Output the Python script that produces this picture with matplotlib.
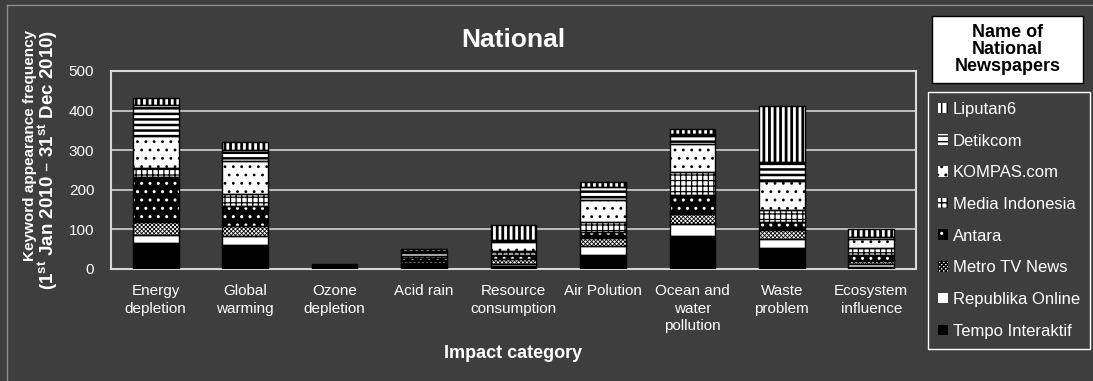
import matplotlib
matplotlib.use("Agg")
import matplotlib.pyplot as plt
from matplotlib.patches import Rectangle
from matplotlib.lines import Line2D

plt.rcParams['font.family'] = ['Liberation Sans', 'DejaVu Sans']
plt.rcParams['mathtext.default'] = 'regular'
plt.rcParams['hatch.linewidth'] = 1.0

categories = ['Energy\ndepletion', 'Global\nwarming', 'Ozone\ndepletion', 'Acid rain',
              'Resource\nconsumption', 'Air Polution', 'Ocean and\nwater\npollution',
              'Waste\nproblem', 'Ecosystem\ninfluence']

newspapers = ['Tempo Interaktif', 'Republika Online', 'Metro TV News', 'Antara',
              'Media Indonesia', 'KOMPAS.com', 'Detikcom', 'Liputan6']

tempo = [66, 61, 3, 12, 8, 35, 84, 54, 6]
republika = [20, 23, 1, 3, 5, 24, 29, 22, 6]
metro_tv = [32, 25, 1, 5, 11, 20, 25, 22, 8]
antara = [115, 51, 2, 8, 11, 15, 49, 20, 15]
media_indonesia = [21, 29, 1, 4, 11, 25, 59, 31, 17]
kompas = [82, 84, 1, 8, 23, 55, 69, 74, 24]
detikcom = [78, 27, 2, 5, 3, 32, 26, 48, 5]
liputan6 = [17, 21, 1, 5, 40, 14, 12, 141, 21]

series = [tempo, republika, metro_tv, antara, media_indonesia, kompas, detikcom, liputan6]

# (face colour, hatch, hatch colour, hatch linewidth)
styles = [
    ('black', None, 'black', 1.0),
    ('white', None, 'white', 1.0),
    ('white', 'xxxxxxxx', 'black', 0.6),
    ('black', '..', 'white', 1.0),
    ('white', '+++', 'black', 0.9),
    ('white', '..', 'black', 0.8),
    ('white', '---', 'black', 1.8),
    ('white', '|||', 'black', 2.0),
]

BG = '#3e3e3e'
W, H = 1093, 381
fig = plt.figure(figsize=(W / 100, H / 100), dpi=100, facecolor=BG)
ax = fig.add_axes([111 / W, 1 - 269 / H, 805 / W, 198 / H], facecolor=BG)

x = list(range(len(categories)))
width = 0.51
bottom = [0] * len(categories)
handles = []
for name, vals, (fc, hatch, hc, hlw) in zip(newspapers, series, styles):
    with plt.rc_context({'hatch.linewidth': hlw}):
        bars = ax.bar(x, vals, width, bottom=bottom, color=fc, edgecolor=hc,
                      hatch=hatch, linewidth=0, label=name, zorder=3)
        for b in bars:
            if hasattr(b, 'set_hatch_linewidth'):
                b.set_hatch_linewidth(hlw)
    ax.bar(x, vals, width, bottom=bottom, fill=False, edgecolor='black',
           linewidth=1.0, zorder=4)
    handles.append(bars)
    bottom = [b + v for b, v in zip(bottom, vals)]

ax.set_xlim(-0.5, len(categories) - 0.5)
ax.set_ylim(0, 500)
ax.set_yticks([0, 100, 200, 300, 400, 500])
ax.set_xticks(x)
ax.set_xticklabels(categories, fontsize=11, color='white', linespacing=1.3)
ax.tick_params(axis='both', length=0, colors='white', labelsize=11)
ax.tick_params(axis='x', pad=11)
ax.tick_params(axis='y', pad=12)
ax.yaxis.grid(True, color='#c8c8c8', linewidth=1.3, zorder=1)
ax.set_axisbelow(True)
for s in ax.spines.values():
    s.set_color('#d8d8d8')
    s.set_linewidth(1.5)

ax.set_title('National', fontsize=19, fontweight='bold', color='white', pad=17)
ax.set_xlabel('Impact category', fontsize=13, fontweight='bold', color='white', labelpad=9)

fig.text(30 / W, 1 - 145 / H, 'Keyword appearance frequency', rotation=90,
         ha='center', va='center', fontsize=11, fontweight='bold', color='white')
fig.text(48 / W, 1 - 160 / H, r'(1$^{st}$ Jan 2010 – 31$^{st}$ Dec 2010)', rotation=90,
         ha='center', va='center', fontsize=13.5, fontweight='bold', color='white')

# legend title box
fig.add_artist(Rectangle((932 / W, 1 - 83 / H), 151 / W, 67 / H, transform=fig.transFigure,
                         facecolor='white', edgecolor='black', linewidth=1))
fig.text(1007.5 / W, 1 - 49.5 / H, 'Name of\nNational\nNewspapers', ha='center', va='center',
         fontsize=13, fontweight='bold', color='black', linespacing=1.0)

leg = fig.legend(handles=handles[::-1], labels=newspapers[::-1], loc='upper left',
                 bbox_to_anchor=(928 / W, 1 - 92 / H), fontsize=12, frameon=True,
                 fancybox=False, edgecolor='white', facecolor=BG, framealpha=1,
                 handlelength=0.6, handleheight=0.6, handletextpad=0.3,
                 labelspacing=1.0, borderpad=0.6, borderaxespad=0)
for t in leg.get_texts():
    t.set_color('white')

# thin frame around the chart
fig.add_artist(Line2D([7 / W, 1], [1 - 5 / H, 1 - 5 / H], transform=fig.transFigure,
                      color='#8c8c8c', linewidth=1))
fig.add_artist(Line2D([7 / W, 7 / W], [0, 1 - 5 / H], transform=fig.transFigure,
                      color='#8c8c8c', linewidth=1))

fig.savefig('out.png', dpi=100, facecolor=BG)
